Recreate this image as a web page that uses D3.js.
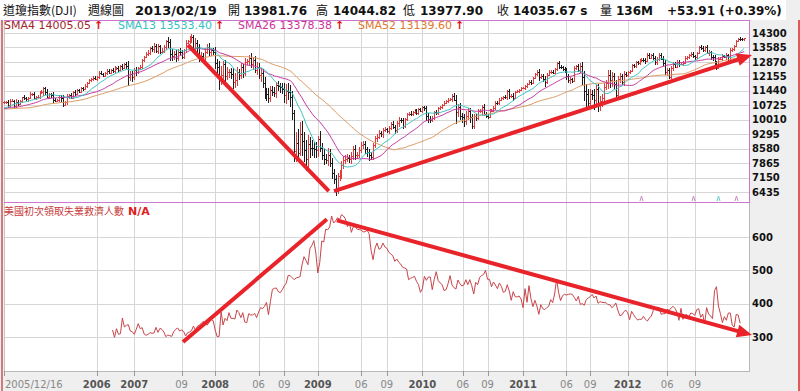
<!DOCTYPE html>
<html lang="zh-Hant">
<head>
<meta charset="UTF-8">
<script src="https://d3js.org/d3.v7.min.js"></script>
<title>DJI weekly</title>
<style>
  body { margin: 0; background: #efefef; }
  text { font-family: "DejaVu Sans", Verdana, "Noto Sans CJK TC", sans-serif; }
  .cjk { font-family: "Noto Sans CJK TC", "DejaVu Sans", sans-serif; }
</style>
</head>
<body>
<script>
// ---- data ----
// weekly closes before 2005/12/16, only used to warm up the moving averages
var priorCloses = [10827,10783,10598,10558,10393,10428,10593,10796,10785,10766,10941,10774,10629,10442,
  10404,10462,10088,10157,10192,10346,10140,10471,10542,10461,10512,10623,10297,10303,10449,10640,10651,10641,
  10559,10600,10559,10397,10447,10678,10641,10419,10568,10292,10287,10215,10403,10531,10686,10766,10931,10878,10778];

// weekly closes, first bar = 2005/12/16
var firstOpen = 10870;
var closes = [10875,10883,10718,
  10959,10960,10667,10907,10793,10919,11115,11061,11021,11076,11279,11280,11109,11120,11137,11347,11367,11577,11380,11144,11278,
  11247,11000,10942,10989,11150,11090,10739,10868,11185,11240,11088,11381,11284,11464,11392,11560,11508,11679,11850,11960,12002,
  12090,12030,12108,12342,12280,12194,12307,12445,12343,12463,
  12398,12556,12565,12487,12653,12580,12767,12647,12114,12276,12110,12481,12354,12560,12612,12961,13120,13264,13326,13556,13507,
  13668,13424,13639,13360,13408,13611,13907,13851,13265,13182,13239,13079,13378,13358,13113,13442,13821,13896,14066,14093,13522,
  13807,13595,13043,13177,12981,13372,13625,13339,13450,13366,
  12800,12606,12099,12207,12743,12183,12348,12381,12266,11894,11951,12361,12216,12610,12325,12849,12891,13058,12745,12986,12480,
  12638,12210,12307,11843,11346,11288,11100,11496,11370,11326,11734,11659,11628,11543,11220,11421,11388,11143,10325,8451,8852,
  8378,9325,8943,8497,8046,8829,8635,8629,8579,8515,
  9034,8599,8281,8077,8000,8280,7850,7366,7063,6627,7224,7279,7776,8018,8083,8131,8076,8212,8575,8268,8277,8500,8764,8799,8539,
  8438,8280,8146,8743,9093,9171,9370,9321,9505,9544,9441,9605,9820,9665,9487,9865,9995,9972,9713,10023,10270,10318,10309,10389,
  10471,10329,10520,
  10428,10618,10610,10173,10067,10013,10099,10402,10325,10567,10625,10742,10851,10927,10998,11019,11204,11009,10380,10621,10193,
  10137,9932,10212,10450,10144,9686,10198,10098,10425,10466,10654,10303,10214,10150,10448,10463,10607,10861,10830,11006,11062,
  11133,11118,11444,11192,11204,11092,11382,11410,11492,11573,11578,
  11674,11787,11871,11823,12092,12273,12391,12130,12169,12044,11858,12221,12376,12380,12341,12505,12811,12638,12596,12512,12441,
  12151,11952,12004,11934,12582,12657,12479,12681,12143,11445,11269,10818,11284,11240,10992,11509,10771,10913,11103,11644,11809,
  12231,11983,12153,11796,11231,12019,12184,11866,12294,12217,
  12360,12422,12720,12660,12862,12801,12950,12983,12978,12922,13233,13081,13212,13060,12850,13029,13228,13038,12821,12369,12455,
  12119,12554,12767,12640,12880,12772,12777,12822,13075,13096,13207,13275,13157,13090,13306,13593,13579,13437,13610,13328,13343,
  13107,13093,12815,12588,13010,13025,13155,13135,13190,12938,
  13435,13488,13650,13896,14009,13993,13982,14036];

// weekly high above max(open, close) and low below min(open, close), in points
var hiExt = [60,45,80,
  70,90,50,110,60,85,40,95,70,55,100,65,80,45,120,60,90,70,50,130,75,60,110,85,40,95,70,120,55,80,65,100,45,90,60,75,50,85,110,40,
  70,95,60,80,50,65,90,45,75,60,85,55,
  90,120,70,110,80,130,60,100,250,140,160,90,120,80,110,70,60,90,120,70,100,150,80,130,90,140,100,70,180,160,220,150,200,130,170,
  120,90,140,80,110,160,120,230,140,180,200,150,190,110,160,130,90,
  250,200,300,450,180,220,260,150,190,280,350,240,170,220,160,190,140,170,230,120,160,220,180,250,200,260,230,310,190,170,
  240,150,200,160,190,300,380,420,330,300,150,550,700,550,600,480,500,420,350,380,300,320,
  180,420,250,300,260,330,280,250,220,190,160,240,210,200,180,170,150,190,160,170,130,150,120,140,170,130,110,120,140,90,
  120,110,100,90,130,80,100,90,120,100,80,130,90,110,70,90,80,100,60,80,70,90,
  60,80,90,70,150,130,100,60,80,70,60,50,70,60,80,50,90,120,240,180,200,150,170,210,160,120,140,100,90,110,
  80,70,120,90,100,80,60,70,90,60,80,50,70,90,60,100,80,120,70,60,50,40,50,
  70,60,80,90,50,60,70,120,100,110,150,80,70,90,100,60,50,80,100,70,90,110,120,100,90,80,70,110,130,200,
  300,350,280,250,220,300,240,280,260,200,180,150,220,250,200,180,160,140,120,100,130,90,
  80,60,70,50,60,70,50,60,80,70,60,90,70,80,100,90,60,80,110,130,90,120,100,90,80,70,90,60,80,70,
  60,50,70,80,60,70,80,90,60,70,80,100,90,120,140,110,90,80,100,70,120,90,
  110,60,50,40,60,70,50,10];
var loExt = [90,70,120,
  80,60,140,70,110,50,90,60,80,120,55,95,70,130,60,100,45,160,140,70,110,180,150,60,75,90,200,85,50,110,140,60,70,90,55,80,65,100,
  50,75,60,90,70,55,85,60,70,90,50,80,60,75,
  100,80,90,140,70,110,80,150,450,200,250,130,160,90,70,80,100,60,120,90,140,210,110,160,120,80,90,150,300,350,280,240,220,150,180,
  110,90,100,70,130,280,160,220,300,200,180,140,170,120,190,160,140,
  300,350,600,350,220,300,200,250,220,350,300,280,240,200,230,170,150,160,200,260,180,280,200,320,250,300,350,270,230,200,
  180,250,220,300,250,400,450,380,500,350,550,550,300,150,750,600,550,480,500,420,450,380,
  350,200,250,300,200,280,180,300,250,400,300,250,200,180,220,160,190,280,210,240,200,180,160,220,200,250,300,140,120,130,
  180,120,150,200,110,90,140,120,100,160,130,200,120,150,110,90,100,130,90,110,80,100,
  60,70,160,250,200,150,120,80,90,70,60,80,50,60,90,70,110,80,600,250,220,300,260,190,220,300,150,120,160,80,
  100,250,130,140,90,70,80,60,120,70,90,80,100,70,150,140,100,180,60,70,80,50,40,
  80,70,60,90,60,50,80,200,90,160,250,70,60,110,80,90,70,120,100,80,110,160,130,170,90,70,100,120,150,400,
  500,700,350,300,260,500,300,400,350,250,200,180,280,400,350,250,260,200,180,120,170,100,
  70,90,60,80,70,100,60,90,120,150,70,80,60,90,150,110,130,80,160,140,200,100,110,140,90,80,130,70,90,60,
  100,80,70,90,110,80,60,120,90,100,80,150,120,160,200,120,90,70,100,80,180,110,
  60,70,80,50,60,90,60,60];

// US initial jobless claims (thousands), weekly, starting at bar 55 (2007/01/05)
var claimsStart = 55;
var claims = [
  321,299,325,308,310,357,330,335,337,318,316,308,323,340,325,328,309,305,308,313,311,312,329,314,326,323,
  315,301,306,304,302,316,323,327,318,321,317,303,313,315,319,333,320,332,336,341,347,338,336,345,352,349,
  321,301,302,375,336,356,349,373,356,356,354,381,373,358,373,345,343,370,366,366,371,358,375,388,385,392,
  404,367,407,443,446,447,436,433,442,453,461,485,484,478,472,477,479,481,516,541,530,517,565,575,589,552,
  492,524,588,585,623,622,630,663,642,648,658,652,667,663,654,631,643,614,631,630,623,622,621,615,616,620,
  610,560,532,567,582,563,567,582,570,566,554,549,544,527,534,524,519,509,507,504,472,476,479,482,467,457,
  434,445,482,470,480,480,442,473,496,469,462,457,439,442,460,484,456,448,444,471,460,453,456,472,457,472,
  454,429,464,457,479,484,488,500,473,473,451,465,456,445,462,452,434,437,457,438,410,436,421,420,423,414,388,
  445,404,454,415,391,410,393,368,397,385,382,388,392,412,403,429,474,434,409,424,428,426,428,429,428,
  418,408,422,398,400,395,412,417,421,428,417,423,401,406,404,403,403,397,397,388,393,402,381,364,366,375,381,
  373,352,377,367,358,351,353,353,362,353,348,357,363,380,388,389,388,368,370,370,383,380,387,392,386,374,
  350,386,353,365,367,361,372,370,365,382,385,359,369,339,388,369,363,355,439,451,393,370,343,361,350,372,
  372,335,330,368,366,341];

var priceTicks = [14300, 13585, 12870, 12155, 11440, 10725, 10010, 9295, 8580, 7865, 7150, 6435];
var claimTicks = [300, 400, 500, 600];

// x-axis labels and the bar index they sit on
var xTickLabels = ["2005/12/16", "2006", "2007", "09", "2008", "06", "09", "2009", "06", "09",
  "2010", "06", "09", "2011", "06", "09", "2012", "06", "09"];
var xTickWeeks = [0, 47, 66, 90, 107, 129, 142, 159, 181, 194, 212, 232.5, 245, 263, 285, 297, 316, 336, 350];

var smaNames = ["SMA4", "SMA13", "SMA26", "SMA52"];
var smaValues = ["14005.05", "13533.40", "13378.38", "13139.60"];

var headerTitle = ["道瓊指數(DJI)", "週線圖", "2013/02/19"];
var headerLabels = ["開", "高", "低", "收", "量"];
var headerValues = ["13981.76", "14044.82", "13977.90", "14035.67 s", "136M"];
var headerChange = "+53.91 (+0.39%)";

// hand drawn trend lines, [bar index, value]
var priceDownLine = [[93.2, 13706], [164.6, 6482]];
var priceUpLine = [[167.2, 6482], [379, 13211]];
var claimsUpLine = [[90.7, 285], [163.6, 653]];
var claimsDownLine = [[168.7, 650], [379, 306]];

// small marks at the bottom of the price panel
var markWeeks = [323, 349, 362, 371];

// ---- drawing ----
var width = 800, height = 391;
var left = 4, right = 749;
var upTop = 20, upBot = 202, loBot = 371;

var svg = d3.select("body").append("svg")
  .attr("width", width).attr("height", height);

var x = d3.scaleLinear().domain([0, 379]).range([4, 752]);
var yP = d3.scaleLinear().domain([6435, 14300]).range([192, 33]);
var yC = d3.scaleLinear().domain([300, 600]).range([337, 237]);

svg.append("rect").attr("width", width).attr("height", height).attr("fill", "#efefef");
svg.append("rect").attr("x", 0).attr("y", 0).attr("width", 786).attr("height", upTop).attr("fill", "#fff");
svg.append("rect").attr("x", left).attr("y", upTop).attr("width", right - left).attr("height", loBot - upTop).attr("fill", "#fff");

// grid
var grid = svg.append("g").attr("shape-rendering", "crispEdges").attr("stroke", "#d6d6d6");
grid.selectAll(".hp").data(priceTicks).enter().append("line")
  .attr("x1", left).attr("x2", right)
  .attr("y1", function (d) { return Math.round(yP(d)) + 0.5; })
  .attr("y2", function (d) { return Math.round(yP(d)) + 0.5; });
grid.selectAll(".hc").data(claimTicks).enter().append("line")
  .attr("x1", left).attr("x2", right)
  .attr("y1", function (d) { return Math.round(yC(d)) + 0.5; })
  .attr("y2", function (d) { return Math.round(yC(d)) + 0.5; });
grid.selectAll(".v").data(xTickWeeks.slice(1)).enter().append("line")
  .attr("x1", function (d) { return Math.round(x(d)) + 0.5; })
  .attr("x2", function (d) { return Math.round(x(d)) + 0.5; })
  .attr("y1", upTop).attr("y2", loBot);

// frame
var frame = svg.append("g").attr("shape-rendering", "crispEdges").attr("fill", "none");
frame.append("line").attr("x1", left + 0.5).attr("x2", left + 0.5).attr("y1", upTop).attr("y2", loBot).attr("stroke", "#c8c8c8");
frame.append("line").attr("x1", right + 0.5).attr("x2", right + 0.5).attr("y1", upBot).attr("y2", loBot).attr("stroke", "#b8b8b8");
frame.append("line").attr("x1", left).attr("x2", right + 1).attr("y1", loBot + 0.5).attr("y2", loBot + 0.5).attr("stroke", "#b8b8b8");
frame.append("path").attr("d", "M" + left + "," + (upTop + 0.5) + "H" + (right + 0.5) + "V" + (upBot + 0.5) + "H" + left)
  .attr("stroke", "#cc77cc");
frame.append("line").attr("x1", 1.5).attr("x2", 1.5).attr("y1", upTop).attr("y2", height).attr("stroke", "#d47a7a").attr("stroke-width", 2);
frame.append("line").attr("x1", 798.5).attr("x2", 798.5).attr("y1", upTop).attr("y2", height).attr("stroke", "#e05858").attr("stroke-width", 2);

// OHLC bars
var bars = closes.map(function (c, i) {
  var o = i ? closes[i - 1] : firstOpen;
  return { i: i, o: o, c: c, h: Math.max(o, c) + (hiExt[i] || 0), l: Math.min(o, c) - (loExt[i] || 0) };
});
svg.append("g").attr("shape-rendering", "crispEdges").attr("fill", "none")
  .selectAll("path").data(bars).enter().append("path")
  .attr("stroke", function (d) { return d.c >= d.o ? "#e03a3a" : "#1c1c1c"; })
  .attr("d", function (d) {
    var px = Math.round(x(d.i)) + 0.5;
    var yo = Math.round(yP(d.o)) + 0.5, yc = Math.round(yP(d.c)) + 0.5;
    return "M" + px + "," + yP(d.h) + "V" + yP(d.l) +
      "M" + (px - 1.5) + "," + yo + "H" + px +
      "M" + px + "," + yc + "H" + (px + 1.5);
  });

// moving averages
var all = priorCloses.concat(closes);
function sma(n) {
  return closes.map(function (c, i) {
    var end = i + priorCloses.length;
    return d3.mean(all.slice(Math.max(0, end - n + 1), end + 1));
  });
}
var line = d3.line().x(function (d, i) { return x(i); }).y(function (d) { return yP(d); });
[[52, "#dc9a62"], [26, "#c43aa4"], [13, "#3cc4c4"]].forEach(function (s) {
  svg.append("path").datum(sma(s[0])).attr("d", line)
    .attr("fill", "none").attr("stroke", s[1]).attr("stroke-width", 1);
});

// small marks
svg.append("g").selectAll("path").data(markWeeks).enter().append("path")
  .attr("d", function (d) { var px = Math.round(x(d)) + 0.5; return "M" + (px - 1.5) + "," + (upBot - 1) + "L" + px + "," + (upBot - 6) + "L" + (px + 1.5) + "," + (upBot - 1); })
  .attr("fill", "none")
  .attr("stroke", function (d, i) { return i === 2 ? "#66cccc" : "#c58ac0"; });

// jobless claims
svg.append("path").datum(claims)
  .attr("d", d3.line().x(function (d, i) { return x(claimsStart + i); }).y(function (d) { return yC(d); }))
  .attr("fill", "none").attr("stroke", "#c8454a").attr("stroke-width", 1);

// trend lines
function trend(pts, ys, withArrow) {
  var p0 = [x(pts[0][0]), ys(pts[0][1])], p1 = [x(pts[1][0]), ys(pts[1][1])];
  var dx = p1[0] - p0[0], dy = p1[1] - p0[1], len = Math.sqrt(dx * dx + dy * dy);
  var ux = dx / len, uy = dy / len;
  var end = withArrow ? [p1[0] - ux * 10, p1[1] - uy * 10] : p1;
  svg.append("line").attr("x1", p0[0]).attr("y1", p0[1]).attr("x2", end[0]).attr("y2", end[1])
    .attr("stroke", "#e8232a").attr("stroke-width", 4);
  if (withArrow) {
    var bx = p1[0] - ux * 15, by = p1[1] - uy * 15;
    svg.append("path")
      .attr("d", "M" + p1[0] + "," + p1[1] + "L" + (bx - uy * 6.5) + "," + (by + ux * 6.5) + "L" + (bx + uy * 6.5) + "," + (by - ux * 6.5) + "Z")
      .attr("fill", "#e8232a");
  }
}
trend(priceDownLine, yP, false);
trend(priceUpLine, yP, true);
trend(claimsUpLine, yC, false);
trend(claimsDownLine, yC, true);

// header
var hx = [3, 88, 135];
headerTitle.forEach(function (t, i) {
  svg.append("text").attr("class", i < 2 ? "cjk" : null).attr("x", hx[i]).attr("y", 15)
    .attr("font-size", i < 2 ? 12 : 13).attr("font-weight", i < 2 ? "normal" : "bold")
    .attr("fill", "#111").text(t);
});
var labelX = [228, 316, 403, 497, 600], valueX = [244, 333, 420, 513, 616];
headerLabels.forEach(function (t, i) {
  svg.append("text").attr("class", "cjk").attr("x", labelX[i]).attr("y", 15).attr("font-size", 12).attr("fill", "#111").text(t);
  svg.append("text").attr("x", valueX[i]).attr("y", 15).attr("font-size", 12).attr("font-weight", "bold").attr("fill", "#111").text(headerValues[i]);
});
svg.append("text").attr("x", 667).attr("y", 15).attr("font-size", 12).attr("font-weight", "bold").attr("fill", "#111").text(headerChange);

// SMA legend
var smaColors = ["#a02828", "#33c2c2", "#cc3399", "#e0782e"];
var smaX = [4, 118, 238, 358];
smaNames.forEach(function (n, i) {
  var t = svg.append("text").attr("x", smaX[i]).attr("y", 29).attr("font-size", 11).attr("fill", smaColors[i]);
  t.append("tspan").text(n + " " + smaValues[i]);
  t.append("tspan").attr("dx", 3).attr("fill", "#e01010").attr("font-weight", "bold").text("↑");
});

// claims title
svg.append("text").attr("class", "cjk").attr("x", 4).attr("y", 215).attr("font-size", 10).attr("fill", "#c83a3a").text("美國初次領取失業救濟人數");
svg.append("text").attr("x", 128).attr("y", 215).attr("font-size", 11).attr("font-weight", "bold").attr("fill", "#e02020").text("N/A");

// right axes
svg.append("g").selectAll("text").data(priceTicks).enter().append("text")
  .attr("x", 752).attr("y", function (d) { return yP(d); }).attr("dy", "0.36em")
  .attr("font-size", 10).attr("font-weight", "bold").attr("fill", "#111").text(function (d) { return d; });
svg.append("g").selectAll("text").data(claimTicks).enter().append("text")
  .attr("x", 752).attr("y", function (d) { return yC(d); }).attr("dy", "0.36em")
  .attr("font-size", 10).attr("font-weight", "bold").attr("fill", "#111").text(function (d) { return d; });

// bottom axis
var xa = svg.append("g");
xa.selectAll("line").data(xTickWeeks).enter().append("line")
  .attr("shape-rendering", "crispEdges")
  .attr("x1", function (d) { return Math.round(x(d)) + 0.5; })
  .attr("x2", function (d) { return Math.round(x(d)) + 0.5; })
  .attr("y1", loBot).attr("y2", loBot + 5).attr("stroke", "#999");
xa.selectAll("text").data(xTickLabels).enter().append("text")
  .attr("x", function (d, i) { return x(xTickWeeks[i]) + (i === 0 ? 1 : 0); })
  .attr("y", 388)
  .attr("text-anchor", function (d, i) { return i === 0 ? "start" : "middle"; })
  .attr("font-size", 10)
  .attr("font-weight", function (d) { return d.length === 4 ? "bold" : "normal"; })
  .attr("fill", function (d) { return d.length === 4 ? "#555" : "#888"; })
  .text(function (d) { return d; });
</script>
</body>
</html>
